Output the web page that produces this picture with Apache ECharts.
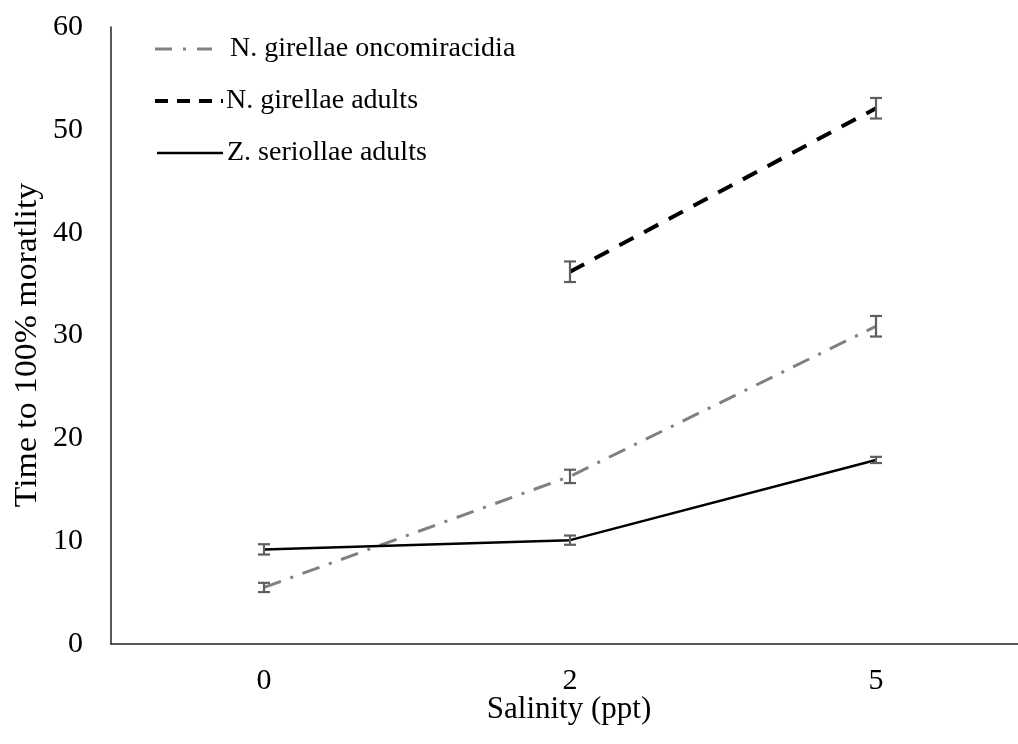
<!DOCTYPE html>
<html><head><meta charset="utf-8">
<script src="https://cdn.jsdelivr.net/npm/echarts@6/dist/echarts.min.js"></script>
<style>html,body{margin:0;padding:0;background:#fff}#c{width:1018px;height:744px}</style>
</head><body><div id="c"></div>
<script>
const categories = ['0', '2', '5'];
const oncoValues = [5.5, 16.3, 30.9];
const oncoErr = [0.45, 0.65, 1.0];
const adultValues = [null, 36.2, 52.1];
const adultErr = [null, 1.0, 1.0];
const zValues = [9.2, 10.1, 17.9];
const zErr = [0.5, 0.45, 0.3];
const seriesNames = ['N. girellae oncomiracidia', 'N. girellae adults', 'Z. seriollae adults'];
const xTitle = 'Salinity (ppt)';
const yTitle = 'Time to 100% moratlity';

const FONT = '"Liberation Serif", "Times New Roman", serif';

const styles = [
  { color: '#808080', width: 3, dash: [18, 10, 3, 10], legendDash: [17, 11, 3, 11] },
  { color: '#000000', width: 4, dash: [16, 12], legendDash: [13, 9] },
  { color: '#000000', width: 2.5, dash: null, legendDash: null }
];

function errData(vals, errs) {
  const out = [];
  vals.forEach((v, i) => { if (v != null) out.push([i, v - errs[i], v + errs[i]]); });
  return out;
}
function errSeries(vals, errs) {
  return {
    type: 'custom', silent: true, z: 5,
    data: errData(vals, errs),
    renderItem: function (params, api) {
      const lo = api.coord([api.value(0), api.value(1)]);
      const hi = api.coord([api.value(0), api.value(2)]);
      const w = 6;
      const st = { stroke: '#5f5f5f', lineWidth: 2.2 };
      return { type: 'group', children: [
        { type: 'line', shape: { x1: lo[0], y1: lo[1], x2: hi[0], y2: hi[1] }, style: st },
        { type: 'line', shape: { x1: lo[0] - w, y1: lo[1], x2: lo[0] + w, y2: lo[1] }, style: st },
        { type: 'line', shape: { x1: hi[0] - w, y1: hi[1], x2: hi[0] + w, y2: hi[1] }, style: st }
      ]};
    }
  };
}

// legend drawn as graphic keys (line samples + real text)
const legendRows = [
  { y: 49, x1: 155, x2: 212, tx: 230 },
  { y: 101, x1: 155, x2: 223, tx: 226 },
  { y: 153, x1: 157, x2: 223, tx: 227 }
];
const legendGraphics = [];
seriesNames.forEach((n, i) => {
  const r = legendRows[i], s = styles[i];
  legendGraphics.push({
    type: 'line', shape: { x1: r.x1, y1: r.y, x2: r.x2, y2: r.y },
    style: { stroke: s.color, lineWidth: s.width, lineDash: s.legendDash || null }
  });
  legendGraphics.push({
    type: 'text', x: r.tx, y: r.y,
    style: { text: n, font: '28px ' + FONT, fill: '#000', textAlign: 'left', textVerticalAlign: 'middle' }
  });
});

const chart = echarts.init(document.getElementById('c'), null, { renderer: 'canvas' });
chart.setOption({
  animation: false,
  textStyle: { fontFamily: FONT },
  grid: { left: 111, top: 27, width: 918, height: 617, containLabel: false, outerBoundsMode: 'none' },
  xAxis: {
    type: 'category', data: categories, boundaryGap: true,
    axisLine: { lineStyle: { color: '#222', width: 1.5 } },
    axisTick: { show: false },
    axisLabel: { fontFamily: FONT, fontSize: 30, color: '#000', margin: 22 }
  },
  yAxis: {
    type: 'value', min: 0, max: 60, interval: 10,
    splitLine: { show: false },
    axisLine: { show: true, lineStyle: { color: '#222', width: 1.5 } },
    axisTick: { show: false },
    axisLabel: { fontFamily: FONT, fontSize: 30, color: '#000', margin: 28 }
  },
  graphic: legendGraphics.concat([
    { type: 'text', x: 569, y: 710,
      style: { text: xTitle, font: '31px ' + FONT, fill: '#000', textAlign: 'center', textVerticalAlign: 'middle' } },
    { type: 'text', x: 28, y: 345, rotation: Math.PI / 2, scaleX: 1.09,
      style: { text: yTitle, font: '31px ' + FONT, fill: '#000', textAlign: 'center', textVerticalAlign: 'middle' } }
  ]),
  series: [
    { name: seriesNames[0], type: 'line', data: oncoValues, showSymbol: false, symbol: 'none',
      lineStyle: { color: styles[0].color, width: styles[0].width, type: styles[0].dash } },
    { name: seriesNames[1], type: 'line', data: adultValues, showSymbol: false, symbol: 'none',
      lineStyle: { color: styles[1].color, width: styles[1].width, type: styles[1].dash } },
    { name: seriesNames[2], type: 'line', data: zValues, showSymbol: false, symbol: 'none',
      lineStyle: { color: styles[2].color, width: styles[2].width, type: 'solid' } },
    errSeries(oncoValues, oncoErr),
    errSeries(adultValues, adultErr),
    errSeries(zValues, zErr)
  ]
});
</script></body></html>
